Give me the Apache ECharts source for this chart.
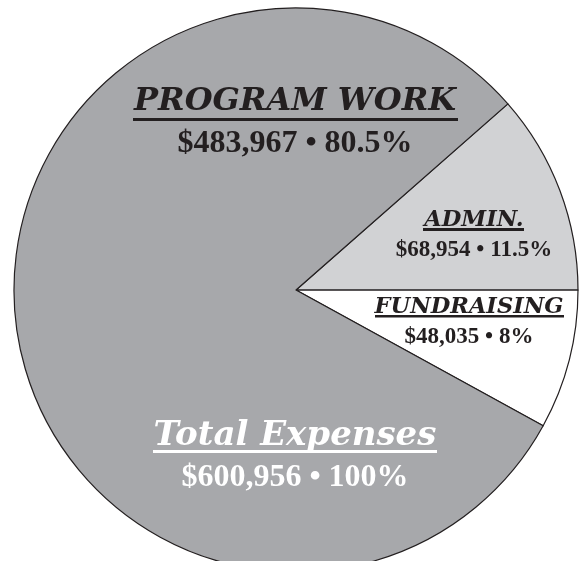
<!DOCTYPE html>
<html>
<head>
<meta charset="utf-8">
<script src="https://cdn.jsdelivr.net/npm/echarts@6/dist/echarts.min.js"></script>
<style>
  html, body { margin: 0; padding: 0; background: #fff; }
  #chart { width: 579px; height: 561px; }
</style>
</head>
<body>
<div id="chart"></div>
<script>
// slice data, in drawing order (clockwise from the admin/program edge)
const categories = ['ADMIN.', 'FUNDRAISING', 'PROGRAM WORK'];
const amounts = [68954, 48035, 483967];
const percentLabels = ['11.5%', '8%', '80.5%'];
const totalLabel = 'Total Expenses';
const totalAmount = 600956;
const totalPercent = '100%';

const colors = ['#d1d2d4', '#ffffff', '#a7a8ab'];
// label block centers, per slice
const labelPos = [[474, 235], [469, 322], [295, 123]];
const titleSize = [22.5, 22.5, 32];
const valueSize = [23, 23, 32];
const lineH = [30, 30, 42];

const TITLE_FONT = "'DejaVu Serif', serif";
const VALUE_FONT = "'Liberation Serif', 'Times New Roman', serif";
const money = v => '$' + v.toLocaleString('en-US');

const chart = echarts.init(document.getElementById('chart'));
chart.setOption({
  animation: false,
  series: [{
    type: 'pie',
    center: [296, 290],
    radius: [0, 282],
    startAngle: 41.3,
    clockwise: true,
    avoidLabelOverlap: false,
    itemStyle: { borderColor: '#231f20', borderWidth: 1.2 },
    emphasis: { disabled: true },
    labelLine: { show: false },
    labelLayout: function (p) {
      const pos = labelPos[p.dataIndex];
      return { x: pos[0], y: pos[1], align: 'center', verticalAlign: 'middle' };
    },
    data: categories.map((c, i) => ({
      name: c,
      value: amounts[i],
      itemStyle: { color: colors[i] },
      label: {
        show: true,
        position: 'inside',
        align: 'center',
        formatter: '{t|' + c + '}\n{v|' + money(amounts[i]) + ' \u2022 ' + percentLabels[i] + '}',
        rich: {
          t: {
            fontFamily: TITLE_FONT, fontStyle: 'italic', fontWeight: 'bold',
            fontSize: titleSize[i], lineHeight: lineH[i], color: '#231f20', align: 'center',
            textShadowColor: 'rgba(255,255,255,0.55)', textShadowOffsetX: 1, textShadowOffsetY: 1
          },
          v: {
            fontFamily: VALUE_FONT, fontWeight: 'bold',
            fontSize: valueSize[i], lineHeight: lineH[i], color: '#231f20', align: 'center'
          }
        }
      }
    }))
  }],
  graphic: [
    {
      type: 'text', z: 100, x: 295, y: 457,
      style: {
        text: '{t|' + totalLabel + '}\n{v|' + money(totalAmount) + ' \u2022 ' + totalPercent + '}',
        align: 'center', verticalAlign: 'middle',
        rich: {
          t: {
            fontFamily: TITLE_FONT, fontStyle: 'italic', fontWeight: 'bold',
            fontSize: 34, lineHeight: 41, fill: '#ffffff', align: 'center',
            textShadowColor: 'rgba(60,60,60,0.5)', textShadowOffsetX: 1, textShadowOffsetY: 1
          },
          v: {
            fontFamily: VALUE_FONT, fontWeight: 'bold',
            fontSize: 32, lineHeight: 41, fill: '#ffffff', align: 'center'
          }
        }
      }
    },
    // underlines
    { type: 'rect', z: 100, shape: { x: 133, y: 118, width: 325, height: 3 }, style: { fill: '#231f20' } },
    { type: 'rect', z: 100, shape: { x: 423, y: 228, width: 101, height: 3 }, style: { fill: '#231f20' } },
    { type: 'rect', z: 100, shape: { x: 375, y: 315, width: 189, height: 2.5 }, style: { fill: '#231f20' } },
    { type: 'rect', z: 100, shape: { x: 153, y: 450, width: 284, height: 3 }, style: { fill: '#ffffff' } }
  ]
});
</script>
</body>
</html>
